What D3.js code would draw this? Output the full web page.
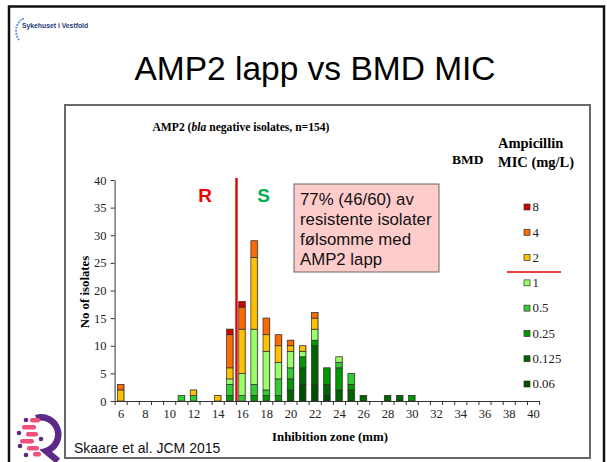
<!DOCTYPE html>
<html>
<head>
<meta charset="utf-8">
<script src="https://cdn.jsdelivr.net/npm/d3@7"></script>
<style>
  body { margin: 0; background: #fff; }
  svg { display: block; }
</style>
</head>
<body>
<div id="chart"></div>
<script>
// inhibition zone (mm) categories that have isolates
var zones = [6, 11, 12, 14, 15, 16, 17, 18, 19, 20, 21, 22, 23, 24, 25, 26, 28, 29, 30];

// isolates per zone, one array per ampicillin MIC (mg/L)
var mic006  = [0, 0, 0, 0, 0, 0, 0, 0, 0, 0, 3, 3, 1, 0, 0, 0, 0, 0, 0];
var mic0125 = [0, 0, 0, 0, 0, 0, 0, 0, 0, 2, 3, 7, 2, 2, 2, 1, 1, 1, 0];
var mic025  = [0, 0, 0, 0, 1, 0, 1, 1, 1, 2, 2, 1, 3, 4, 1, 0, 0, 0, 1];
var mic05   = [0, 1, 1, 0, 2, 1, 2, 1, 3, 2, 0, 0, 0, 1, 2, 0, 0, 0, 0];
var mic1    = [0, 0, 0, 0, 1, 4, 10, 7, 3, 3, 1, 2, 0, 1, 0, 0, 0, 0, 0];
var mic2    = [2, 0, 1, 1, 2, 8, 13, 3, 3, 1, 1, 2, 0, 0, 0, 0, 0, 0, 0];
var mic4    = [1, 0, 0, 0, 6, 4, 3, 3, 2, 1, 0, 1, 0, 0, 0, 0, 0, 0, 0];
var mic8    = [0, 0, 0, 0, 1, 1, 0, 0, 0, 0, 0, 0, 0, 0, 0, 0, 0, 0, 0];

var micKeys   = ['0.06', '0.125', '0.25', '0.5', '1', '2', '4', '8'];
var micSeries = [mic006, mic0125, mic025, mic05, mic1, mic2, mic4, mic8];
var micColors = ['#004f00', '#006400', '#009a00', '#33cc33', '#99ff66', '#ffc000', '#ff6a00', '#d00000'];

var yTicks = [0, 5, 10, 15, 20, 25, 30, 35, 40];
var xLabels = [6, 8, 10, 12, 14, 16, 18, 20, 22, 24, 26, 28, 30, 32, 34, 36, 38, 40];
var boxLines = ['77% (46/60) av', 'resistente isolater', 'følsomme med', 'AMP2 lapp'];

var width = 607, height = 462;
var serif = '"Liberation Serif", "Times New Roman", serif';
var sans = '"Liberation Sans", Arial, sans-serif';

var svg = d3.select('#chart')
    .append('svg')
    .attr('width', width)
    .attr('height', height);

// slide frame
svg.append('rect')
    .attr('x', 9).attr('y', 6.5)
    .attr('width', 595).attr('height', 470)
    .attr('fill', 'none')
    .attr('stroke', '#111')
    .attr('stroke-width', 2.5);

// top-left hospital logo
var arcDots = d3.range(0, 9).map(function (i) {
    var a = Math.PI * (0.62 + i * 0.075);
    return [27 + 11 * Math.cos(a), 31 - 13 * Math.sin(a)];
});
svg.selectAll('.logodot')
    .data(arcDots)
    .join('circle')
    .attr('class', 'logodot')
    .attr('cx', function (d) { return d[0]; })
    .attr('cy', function (d) { return d[1]; })
    .attr('r', 1.1)
    .attr('fill', '#5b9bd5');
svg.append('text')
    .attr('x', 22).attr('y', 28)
    .style('font-family', sans)
    .style('font-size', '6.8px')
    .style('font-weight', 'bold')
    .attr('fill', '#1f3a78')
    .text('Sykehuset i Vestfold');

// slide title
svg.append('text')
    .attr('x', 315).attr('y', 80)
    .attr('text-anchor', 'middle')
    .style('font-family', sans)
    .style('font-size', '33.5px')
    .text('AMP2 lapp vs BMD MIC');

// chart box
svg.append('rect')
    .attr('x', 65).attr('y', 105)
    .attr('width', 525).attr('height', 353)
    .attr('fill', '#fff')
    .attr('stroke', '#6a6a6a')
    .attr('stroke-width', 2);

var title = svg.append('text')
    .attr('x', 241).attr('y', 131)
    .attr('text-anchor', 'middle')
    .style('font-family', serif)
    .style('font-size', '11.6px')
    .style('font-weight', 'bold');
title.append('tspan').text('AMP2 (');
title.append('tspan').style('font-style', 'italic').text('bla');
title.append('tspan').text(' negative isolates, n=154)');

// scales
var xScale = d3.scaleLinear()
    .domain([5.5, 40.5])
    .range([114.6, 539.1]);
var yScale = d3.scaleLinear()
    .domain([0, 40])
    .range([401, 180]);

// stacked data
var rows = zones.map(function (z, i) {
    var r = { zone: z };
    micKeys.forEach(function (k, j) { r[k] = micSeries[j][i]; });
    r.total = d3.sum(micSeries, function (s) { return s[i]; });
    return r;
});
var stacked = d3.stack().keys(micKeys)(rows);

var barW = 6.4;
var barsG = svg.append('g');

// soft shadow behind each bar
barsG.append('g')
    .selectAll('rect')
    .data(rows)
    .join('rect')
    .attr('x', function (d) { return xScale(d.zone) - barW / 2 + 1; })
    .attr('y', function (d) { return yScale(d.total) - 0.5; })
    .attr('width', barW)
    .attr('height', function (d) { return yScale(0) - yScale(d.total) + 0.5; })
    .attr('fill', '#bdbdbd');

barsG.append('g')
    .selectAll('g')
    .data(stacked)
    .join('g')
    .attr('fill', function (d, i) { return micColors[i]; })
    .selectAll('rect')
    .data(function (d) { return d.filter(function (s) { return s[1] > s[0]; }); })
    .join('rect')
    .attr('x', function (d) { return xScale(d.data.zone) - barW / 2; })
    .attr('y', function (d) { return yScale(d[1]); })
    .attr('width', barW)
    .attr('height', function (d) { return yScale(d[0]) - yScale(d[1]); })
    .attr('stroke', '#2a2a2a')
    .attr('stroke-width', 0.7);

// y axis
var yAxis = svg.append('g')
    .attr('transform', 'translate(114.6,0)')
    .call(d3.axisLeft(yScale).tickValues(yTicks).tickSize(4).tickPadding(4).tickSizeOuter(0));
yAxis.selectAll('text')
    .style('font-family', serif)
    .style('font-size', '12.5px')
    .attr('fill', '#222');
yAxis.selectAll('line, path').attr('stroke', '#333');

// x axis: ticks between categories, labels on even zones
var xAxis = svg.append('g')
    .attr('transform', 'translate(0,401)')
    .call(d3.axisBottom(xScale)
        .tickValues(d3.range(5.5, 41, 1))
        .tickFormat('')
        .tickSize(4)
        .tickSizeOuter(0));
xAxis.selectAll('line, path').attr('stroke', '#333');

var xLab = svg.append('g')
    .attr('transform', 'translate(0,401)')
    .call(d3.axisBottom(xScale).tickValues(xLabels).tickFormat(d3.format('d')).tickSize(0).tickPadding(8));
xLab.select('.domain').remove();
xLab.selectAll('text')
    .style('font-family', serif)
    .style('font-size', '12.5px')
    .attr('fill', '#222');

// axis titles
svg.append('text')
    .attr('x', 330).attr('y', 441)
    .attr('text-anchor', 'middle')
    .style('font-family', serif)
    .style('font-size', '12.8px')
    .style('font-weight', 'bold')
    .text('Inhibition zone (mm)');
svg.append('text')
    .attr('transform', 'translate(89,292) rotate(-90)')
    .attr('text-anchor', 'middle')
    .style('font-family', serif)
    .style('font-size', '12.8px')
    .style('font-weight', 'bold')
    .text('No of isolates');

// breakpoint line and R / S
svg.append('line')
    .attr('x1', xScale(15.55)).attr('x2', xScale(15.55))
    .attr('y1', 178).attr('y2', 401)
    .attr('stroke', '#e00000')
    .attr('stroke-width', 2.4);
svg.append('text')
    .attr('x', 205).attr('y', 202)
    .attr('text-anchor', 'middle')
    .style('font-family', sans)
    .style('font-size', '19px')
    .style('font-weight', 'bold')
    .attr('fill', '#f00000')
    .text('R');
svg.append('text')
    .attr('x', 263.5).attr('y', 202)
    .attr('text-anchor', 'middle')
    .style('font-family', sans)
    .style('font-size', '19px')
    .style('font-weight', 'bold')
    .attr('fill', '#00b050')
    .text('S');

// note box
svg.append('rect')
    .attr('x', 294).attr('y', 184)
    .attr('width', 145).attr('height', 88)
    .attr('fill', '#ffcccc')
    .attr('stroke', '#666')
    .attr('stroke-width', 1);
svg.append('g')
    .selectAll('text')
    .data(boxLines)
    .join('text')
    .attr('x', 300)
    .attr('y', function (d, i) { return 204.5 + i * 20.3; })
    .style('font-family', sans)
    .style('font-size', '16.8px')
    .attr('fill', '#111')
    .text(function (d) { return d; });

// legend headings
svg.append('text')
    .attr('x', 452).attr('y', 163.5)
    .style('font-family', serif)
    .style('font-size', '13.5px')
    .style('font-weight', 'bold')
    .text('BMD');
svg.append('text')
    .attr('x', 498).attr('y', 148)
    .style('font-family', serif)
    .style('font-size', '14.5px')
    .style('font-weight', 'bold')
    .text('Ampicillin');
svg.append('text')
    .attr('x', 498).attr('y', 166.5)
    .style('font-family', serif)
    .style('font-size', '14.5px')
    .style('font-weight', 'bold')
    .text('MIC (mg/L)');

// legend, highest MIC on top
var legY = d3.scalePoint()
    .domain(micKeys.slice().reverse())
    .range([207, 384]);
var leg = svg.append('g')
    .selectAll('g')
    .data(micKeys)
    .join('g')
    .attr('transform', function (d) { return 'translate(524,' + legY(d) + ')'; });
leg.append('rect')
    .attr('x', 0).attr('y', -3)
    .attr('width', 6).attr('height', 6)
    .attr('fill', function (d, i) { return micColors[i]; })
    .attr('stroke', '#333')
    .attr('stroke-width', 0.7);
leg.append('text')
    .attr('x', 8.5).attr('y', 4.3)
    .style('font-family', serif)
    .style('font-size', '12.8px')
    .attr('fill', '#222')
    .text(function (d) { return d; });
svg.append('line')
    .attr('x1', 507).attr('x2', 561)
    .attr('y1', 272).attr('y2', 272)
    .attr('stroke', '#e00000')
    .attr('stroke-width', 1.5);

// reference
svg.append('text')
    .attr('x', 74).attr('y', 453)
    .style('font-family', sans)
    .style('font-size', '14px')
    .attr('fill', '#111')
    .text('Skaare et al. JCM 2015');

// bottom-left logo (approximation)
var logo = svg.append('g');
logo.append('path')
    .attr('d', 'M36,418 A17,17 0 1 1 46,451 L58,461')
    .attr('fill', 'none')
    .attr('stroke', '#5a2a86')
    .attr('stroke-width', 6.5);
var pinks = [[30, 418, 10], [22, 425, 14], [26, 432, 12], [20, 439, 14], [27, 446, 12], [33, 452, 8]];
logo.selectAll('.pk')
    .data(pinks)
    .join('rect')
    .attr('class', 'pk')
    .attr('x', function (d) { return d[0]; })
    .attr('y', function (d) { return d[1]; })
    .attr('width', function (d) { return d[2]; })
    .attr('height', 4.5)
    .attr('rx', 2)
    .attr('fill', '#f0507c');
var purpleDots = [[26, 420], [19, 433], [20, 446], [41, 439], [26, 455]];
logo.selectAll('.pd')
    .data(purpleDots)
    .join('circle')
    .attr('class', 'pd')
    .attr('cx', function (d) { return d[0]; })
    .attr('cy', function (d) { return d[1]; })
    .attr('r', 2.3)
    .attr('fill', '#5a2a86');
</script>
</body>
</html>
